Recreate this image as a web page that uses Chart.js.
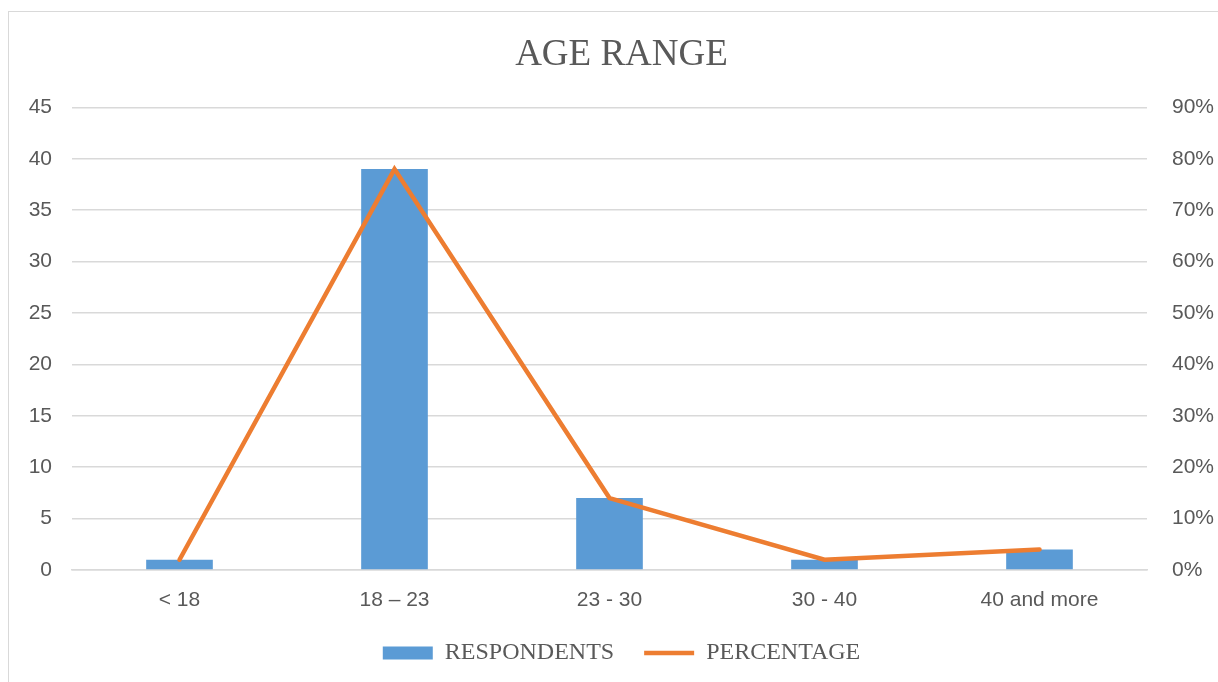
<!DOCTYPE html>
<html>
<head>
<meta charset="utf-8">
<script src="https://cdn.jsdelivr.net/npm/chart.js@4.4.0/dist/chart.umd.min.js"></script>
<style>
  html, body { margin: 0; padding: 0; background: #fff; overflow: hidden; }
  #frame {
    position: absolute; left: 8px; top: 11px;
    width: 1240px; height: 700px;
    border: 1px solid #d9d9d9;
  }
  #wrap { position: absolute; left: 0; top: 0; width: 1225px; height: 663px; }
</style>
</head>
<body>
<div id="frame">
  <div id="wrap"><canvas id="ageChart"></canvas></div>
</div>
<script>
const categories = ['< 18', '18 – 23', '23 - 30', '30 - 40', '40 and more'];
const respondents = [1, 39, 7, 1, 2];
const percentage = [2, 78, 14, 2, 4];

const tickFont = { family: "'Liberation Sans Narrow', 'Arial Narrow', 'Liberation Sans', sans-serif", size: 21 };
const serifFont = "'Liberation Serif', 'Times New Roman', serif";

const ctx = document.getElementById('ageChart').getContext('2d');
const ageChart = new Chart(ctx, {
    type: 'bar',
    data: {
        labels: categories,
        datasets: [{
            label: 'RESPONDENTS',
            data: respondents,
            backgroundColor: '#5B9BD5',
            barPercentage: 0.62,
            categoryPercentage: 0.5,
            yAxisID: 'y',
            order: 1,
            pointStyle: 'rect'
        }, {
            type: 'line',
            label: 'PERCENTAGE',
            data: percentage,
            borderColor: '#ED7D31',
            backgroundColor: '#ED7D31',
            borderWidth: 4.5,
            borderCapStyle: 'round',
            pointRadius: 0,
            tension: 0,
            yAxisID: 'y1',
            order: 0,
            pointStyle: 'line'
        }]
    },
    options: {
        responsive: true,
        maintainAspectRatio: false,
        animation: false,
        layout: { padding: { left: 0, right: 0, top: 0, bottom: 0 } },
        plugins: {
            title: {
                display: true,
                text: 'AGE RANGE',
                color: '#595959',
                font: { family: serifFont, size: 37, weight: 'normal' },
                padding: { top: 21, bottom: 30 }
            },
            legend: {
                position: 'bottom',
                labels: {
                    usePointStyle: true,
                    pointStyleWidth: 50,
                    boxHeight: 13,
                    color: '#595959',
                    font: { family: serifFont, size: 24 },
                    padding: 30,
                    sort: (a, b) => a.datasetIndex - b.datasetIndex
                }
            },
            tooltip: { enabled: false }
        },
        scales: {
            x: {
                grid: { display: false },
                border: { display: true, color: '#d9d9d9', width: 1.5 },
                ticks: { color: '#595959', font: tickFont, padding: 10 },
                afterFit: (scale) => { scale.height = 41; }
            },
            y: {
                position: 'left',
                min: 0, max: 45,
                ticks: { stepSize: 5, color: '#595959', font: tickFont, padding: 20 },
                grid: { color: '#d9d9d9', lineWidth: 1.5, drawTicks: false },
                border: { display: false },
                afterFit: (scale) => { scale.width = 63; }
            },
            y1: {
                position: 'right',
                min: 0, max: 90,
                ticks: { stepSize: 10, color: '#595959', font: tickFont, padding: 25, callback: v => v + '%' },
                grid: { display: false, drawTicks: false },
                border: { display: false },
                afterFit: (scale) => { scale.width = 87; }
            }
        }
    }
});
</script>
</body>
</html>
